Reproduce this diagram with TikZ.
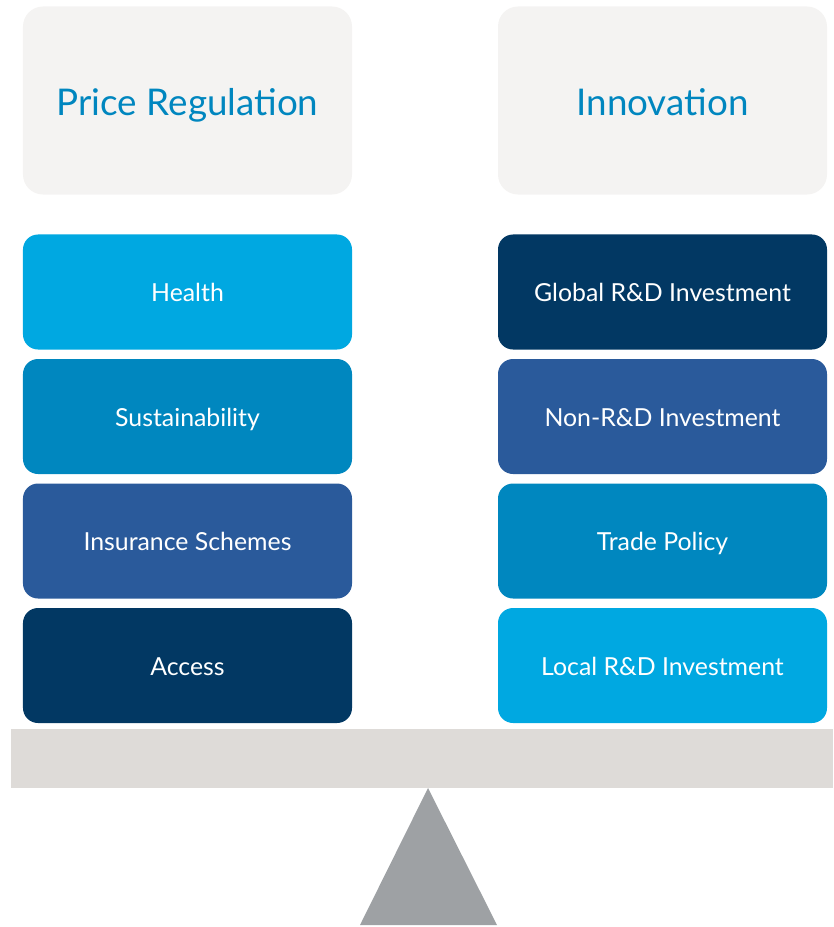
\documentclass[tikz,border=0pt]{standalone}
\usepackage{fontspec}
\setmainfont{Lato}
\usepackage{xcolor}
\usetikzlibrary{positioning}

\definecolor{headfill}{HTML}{F4F3F2}
\definecolor{headtext}{HTML}{0086BF}
\definecolor{skyblue}{HTML}{00A8E1}
\definecolor{midblue}{HTML}{0087BF}
\definecolor{steelblue}{HTML}{2A5A9B}
\definecolor{navyblue}{HTML}{023863}
\definecolor{beamgray}{HTML}{DEDBD8}
\definecolor{pivotgray}{HTML}{9EA1A4}

\begin{document}
\begin{tikzpicture}[
  x=0.03cm,
  y=-0.03cm,
  header/.style={
    fill=headfill,
    rounded corners=0.6cm,
    minimum width=9.87cm,
    minimum height=5.64cm,
    inner sep=0pt,
    text height=26pt,
    text depth=0pt,
    text=headtext,
    font=\fontsize{31.4}{36}\selectfont
  },
  factor/.style={
    rounded corners=0.45cm,
    minimum width=9.87cm,
    minimum height=3.45cm,
    inner sep=0pt,
    text height=17pt,
    text depth=0pt,
    text=white,
    font=\fontsize{21.2}{25}\selectfont
  }
]
  \useasboundingbox (0,0) rectangle (833,927);

  % the two sides of the scale
  \node[header] (price) at (187.5,100.5) {Price Regulation};
  \node[header] (innov) at (662.5,100.5) {Innovation};

  % left stack
  \node[factor, fill=skyblue] (health) at (187.5,292) {Health};
  \node[factor, fill=midblue] (sustain) at (187.5,416.5) {Sustainability};
  \node[factor, fill=steelblue] (insure) at (187.5,541) {Insurance Schemes};
  \node[factor, fill=navyblue] (access) at (187.5,665.5) {Access};

  % right stack
  \node[factor, fill=navyblue] (globalrd) at (662.5,292) {Global R\&D Investment};
  \node[factor, fill=steelblue] (nonrd) at (662.5,416.5) {Non-R\&D Investment};
  \node[factor, fill=midblue] (trade) at (662.5,541) {Trade Policy};
  \node[factor, fill=skyblue] (localrd) at (662.5,665.5) {Local R\&D Investment};

  % beam and pivot
  \path[fill=beamgray] (11,729) rectangle (833,788);
  \path[fill=pivotgray] (428,788) -- (497,925) -- (360,925) -- cycle;
\end{tikzpicture}
\end{document}
